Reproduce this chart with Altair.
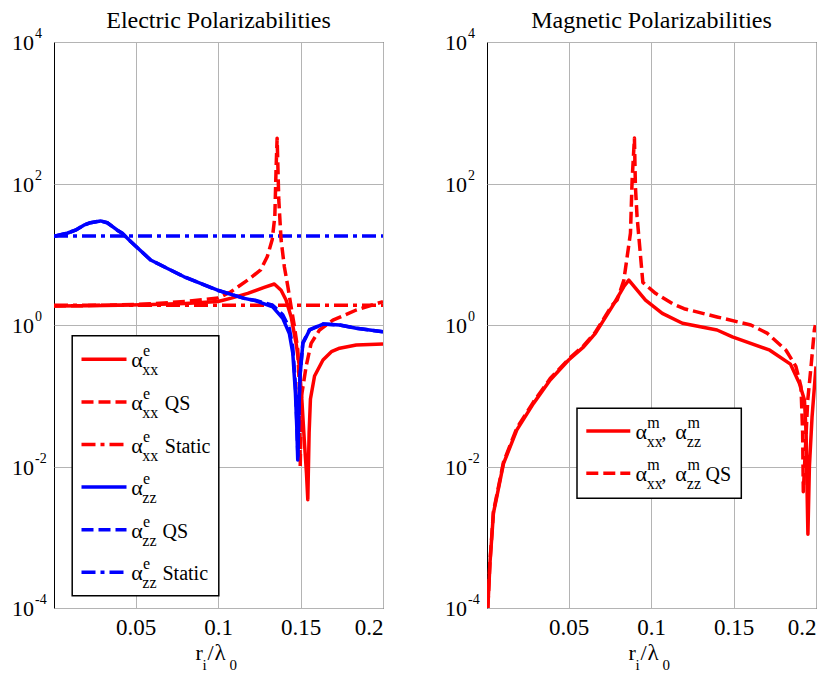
import altair as alt
import pandas as pd

SERIF = "Liberation Serif"
RED = "#ff0000"
BLUE = "#0000ff"
GRID = "#b4b4b4"

X_MIN, X_MAX = 0.0005, 0.2
Y_MIN, Y_MAX = 1e-4, 1e4
x_ticks = [0.05, 0.1, 0.15, 0.2]
y_ticks = [1e-4, 1e-2, 1e0, 1e2, 1e4]
y_tick_exp = ["-4", "-2", "0", "2", "4"]

# ---------------- Electric polarizabilities ----------------
exx_x = [0.0005, 0.02, 0.04, 0.06, 0.08, 0.1, 0.108, 0.118, 0.128, 0.1341, 0.1382, 0.1412,
         0.1443, 0.1473, 0.1493, 0.1508, 0.1522, 0.1536, 0.1544, 0.1552, 0.156, 0.1585,
         0.1636, 0.1687, 0.1737, 0.1838, 0.2]
exx_y = [1.86, 1.87, 1.9, 1.95, 2.02, 2.15, 2.4, 2.8, 3.4, 3.8, 3.1, 2.25,
         1.3, 0.55, 0.26, 0.087, 0.025, 0.008, 0.0034, 0.03, 0.09, 0.19,
         0.32, 0.42, 0.47, 0.52, 0.54]

exx_qs_x = [0.0005, 0.02, 0.04, 0.06, 0.08, 0.1, 0.1078, 0.1179, 0.1258, 0.1298, 0.1328,
            0.1344, 0.1352, 0.1358, 0.1368, 0.1382, 0.1402, 0.1423, 0.1443, 0.1463, 0.1483,
            0.1492, 0.1498, 0.1506, 0.1534, 0.1564, 0.1615, 0.1696, 0.1838, 0.2]
exx_qs_y = [1.86, 1.88, 1.92, 2.0, 2.15, 2.4, 2.95, 4.3, 6.0, 9.2, 16,
            34, 174, 437, 59, 16, 6.6, 3.5, 1.8, 0.95, 0.45,
            0.15, 0.01, 0.1, 0.26, 0.55, 0.85, 1.17, 1.63, 2.14]

exx_static_x = [0.0005, 0.2]
exx_static_y = [1.9, 1.9]

ezz_x = [0.0005, 0.0084, 0.0135, 0.0186, 0.0226, 0.0287, 0.0328, 0.0389, 0.0419, 0.047,
         0.0591, 0.0693, 0.0794, 0.0997, 0.1159, 0.123, 0.1331, 0.1392, 0.1432, 0.1453,
         0.1469, 0.1477, 0.1483, 0.149, 0.1497, 0.1514, 0.1555, 0.1636, 0.1737, 0.1838, 0.2]
ezz_y = [18.0, 19.8, 21.9, 25.8, 27.9, 29.6, 27.9, 21.9, 19.8, 15.1,
         8.3, 6.3, 4.8, 3.1, 2.38, 2.2, 1.8, 1.24, 0.76, 0.40,
         0.108, 0.037, 0.0124, 0.06, 0.19, 0.55, 0.85, 1.03, 1.0, 0.9, 0.8]

ezz_qs_x = [0.0005, 0.0084, 0.0135, 0.0186, 0.0226, 0.0287, 0.0328, 0.0389, 0.0419, 0.047,
            0.0591, 0.0693, 0.0794, 0.0997, 0.1159, 0.123, 0.1331, 0.1392, 0.1432, 0.1453,
            0.1469, 0.1477, 0.1484, 0.149, 0.1497, 0.1514, 0.1555, 0.1636, 0.1737, 0.1838, 0.2]
ezz_qs_y = [18.0, 19.8, 21.9, 25.8, 27.9, 29.6, 27.9, 21.9, 19.8, 15.1,
            8.3, 6.3, 4.8, 3.1, 2.38, 2.22, 1.9, 1.4, 0.9, 0.48,
            0.14, 0.045, 0.014, 0.07, 0.2, 0.56, 0.86, 1.03, 1.0, 0.9, 0.8]

ezz_static_x = [0.0005, 0.2]
ezz_static_y = [18.1, 18.1]

# ---------------- Magnetic polarizabilities ----------------
m_x = [0.001, 0.0023, 0.0044, 0.0064, 0.0105, 0.0186, 0.0287, 0.0388, 0.05, 0.0591,
       0.0662, 0.0763, 0.0835, 0.0865, 0.0966, 0.1068, 0.119, 0.14, 0.1493, 0.172,
       0.1845, 0.1899, 0.193, 0.194, 0.1945, 0.1951, 0.196, 0.1976, 0.2]
m_y = [1e-4, 4.3e-4, 0.0022, 0.0037, 0.011, 0.033, 0.078, 0.167, 0.32, 0.49,
       0.76, 1.8, 3.5, 4.3, 2.25, 1.46, 1.06, 0.85, 0.68, 0.44,
       0.28, 0.15, 0.087, 0.03, 0.0058, 0.0011, 0.01, 0.05, 0.26]

m_qs_x = [0.001, 0.0023, 0.0044, 0.0064, 0.0105, 0.0186, 0.0287, 0.0388, 0.05, 0.0591,
          0.0662, 0.0763, 0.0794, 0.0835, 0.0875, 0.0885, 0.0899, 0.0905, 0.0915, 0.0935,
          0.095, 0.1027, 0.113, 0.12, 0.14, 0.1605, 0.1706, 0.1818, 0.1878, 0.1909,
          0.1919, 0.1923, 0.195, 0.197, 0.199, 0.1996]
m_qs_y = [1e-4, 4.5e-4, 0.0023, 0.0039, 0.0115, 0.035, 0.082, 0.175, 0.33, 0.51,
          0.79, 1.9, 2.25, 4.3, 20, 112, 440, 90, 34, 10,
          4.0, 2.8, 2.0, 1.7, 1.3, 1.0, 0.76, 0.44, 0.26, 0.134,
          0.03, 0.0044, 0.087, 0.26, 0.85, 1.0]

W, H = 329, 566
LW = 3.5
DASH = [12, 5]
DASHDOT = [14, 5, 4, 5]

xscale = alt.Scale(domain=[X_MIN, X_MAX], nice=False, zero=False)
yscale = alt.Scale(type="log", domain=[Y_MIN, Y_MAX], nice=False)
xaxis = alt.Axis(values=x_ticks, grid=True, gridColor=GRID, gridWidth=1, ticks=False,
                 domain=False, labelFont=SERIF, labelFontSize=23, labelColor="black",
                 labelPadding=8, format="~g", title=None)
yaxis = alt.Axis(values=y_ticks, grid=True, gridColor=GRID, gridWidth=1, ticks=False,
                 domain=False, labels=False, title=None)

ONE = pd.DataFrame({"k": [0]})


def curve(xs, ys, color, dash=None):
    df = pd.DataFrame({"x": xs, "y": ys})
    kw = dict(color=color, strokeWidth=LW, clip=True, strokeJoin="round")
    if dash is not None:
        kw["strokeDash"] = dash
    return alt.Chart(df).mark_line(**kw).encode(
        x=alt.X("x:Q", scale=xscale, axis=xaxis),
        y=alt.Y("y:Q", scale=yscale, axis=yaxis),
    )


def txt(s, x, y, size, align="left"):
    return alt.Chart(ONE).mark_text(
        text=s, font=SERIF, fontSize=size, align=align, baseline="alphabetic", color="black"
    ).encode(x=alt.value(x), y=alt.value(y))


def seg(x1, x2, y, color, dash=None):
    kw = dict(color=color, strokeWidth=LW)
    if dash is not None:
        kw["strokeDash"] = dash
    return alt.Chart(ONE).mark_rule(**kw).encode(
        x=alt.value(x1), x2=alt.value(x2), y=alt.value(y)
    )


def box(x1, x2, y1, y2):
    return alt.Chart(ONE).mark_rect(fill="white", stroke="black", strokeWidth=1.5).encode(
        x=alt.value(x1), x2=alt.value(x2), y=alt.value(y1), y2=alt.value(y2)
    )


def y_labels():
    df = pd.DataFrame({"y": y_ticks, "e": y_tick_exp})
    base = alt.Chart(df).encode(y=alt.Y("y:Q", scale=yscale, axis=yaxis))
    tens = base.mark_text(text="10", font=SERIF, fontSize=22, align="right",
                          baseline="alphabetic", dy=8, color="black").encode(x=alt.value(-20))
    exps = base.mark_text(font=SERIF, fontSize=14, align="left",
                          baseline="alphabetic", dy=-4, color="black").encode(
        x=alt.value(-19), text="e:N")
    return [tens, exps]


def x_title():
    return [
        txt("r", 141.5, 618, 22),
        txt("i", 148.5, 628, 15),
        txt("/", 153.5, 618, 22),
        txt("λ", 160.5, 618, 23),
        txt("0", 175.5, 628, 15),
    ]


def panel_title(s):
    return txt(s, W / 2, -14, 24, align="center")


# ---------- left panel ----------
left_layers = [
    curve(exx_static_x, exx_static_y, RED, DASHDOT),
    curve(ezz_static_x, ezz_static_y, BLUE, DASHDOT),
    curve(exx_qs_x, exx_qs_y, RED, DASH),
    curve(exx_x, exx_y, RED),
    curve(ezz_qs_x, ezz_qs_y, BLUE, DASH),
    curve(ezz_x, ezz_y, BLUE),
]
left_layers += y_labels() + x_title() + [panel_title("Electric Polarizabilities")]
left_layers.append(box(18.2, 164.8, 293.7, 553.7))
entries = [
    (RED, None, "xx", ""),
    (RED, DASH, "xx", "QS"),
    (RED, DASHDOT, "xx", "Static"),
    (BLUE, None, "zz", ""),
    (BLUE, DASH, "zz", "QS"),
    (BLUE, DASHDOT, "zz", "Static"),
]
for i, (col, dash, sub, suffix) in enumerate(entries):
    ly = 317.3 + i * 42.6
    left_layers.append(seg(27.5, 72.5, ly, col, dash))
    left_layers.append(txt("α", 77.3, ly + 8, 22))
    left_layers.append(txt("e", 89.0, ly - 3, 16))
    left_layers.append(txt(sub, 88.3, ly + 16, 16))
    if suffix:
        left_layers.append(txt(suffix, 110.8 if sub == "xx" else 108.5, ly + 8, 20))

left = alt.layer(*left_layers).properties(width=W, height=H)

# ---------- right panel ----------
right_layers = [
    curve(m_qs_x, m_qs_y, RED, DASH),
    curve(m_x, m_y, RED),
]
right_layers += y_labels() + x_title() + [panel_title("Magnetic Polarizabilities")]
right_layers.append(box(90.0, 254.3, 366.3, 456.3))
for i, (dash, suffix) in enumerate([(None, ""), (DASH, "QS")]):
    ly = 389.0 + i * 42.3
    right_layers.append(seg(99.3, 143.3, ly, RED, dash))
    right_layers.append(txt("α", 148.6, ly + 8, 22))
    right_layers.append(txt("m", 160.3, ly - 3, 16))
    right_layers.append(txt("xx", 159.8, ly + 16, 16))
    right_layers.append(txt(",", 174.3, ly + 8, 21))
    right_layers.append(txt("α", 188.3, ly + 8, 22))
    right_layers.append(txt("m", 200.5, ly - 3, 16))
    right_layers.append(txt("zz", 199.8, ly + 16, 16))
    if suffix:
        right_layers.append(txt(suffix, 218.6, ly + 8, 20))

right = alt.layer(*right_layers).properties(width=W, height=H)

chart = alt.hconcat(left, right, spacing=60).properties(
    padding={"left": 3, "top": 0, "right": 5, "bottom": 0}
).configure_view(stroke="black", strokeWidth=1)

chart.save("out.html", embed_options={"renderer": "svg", "actions": False})
